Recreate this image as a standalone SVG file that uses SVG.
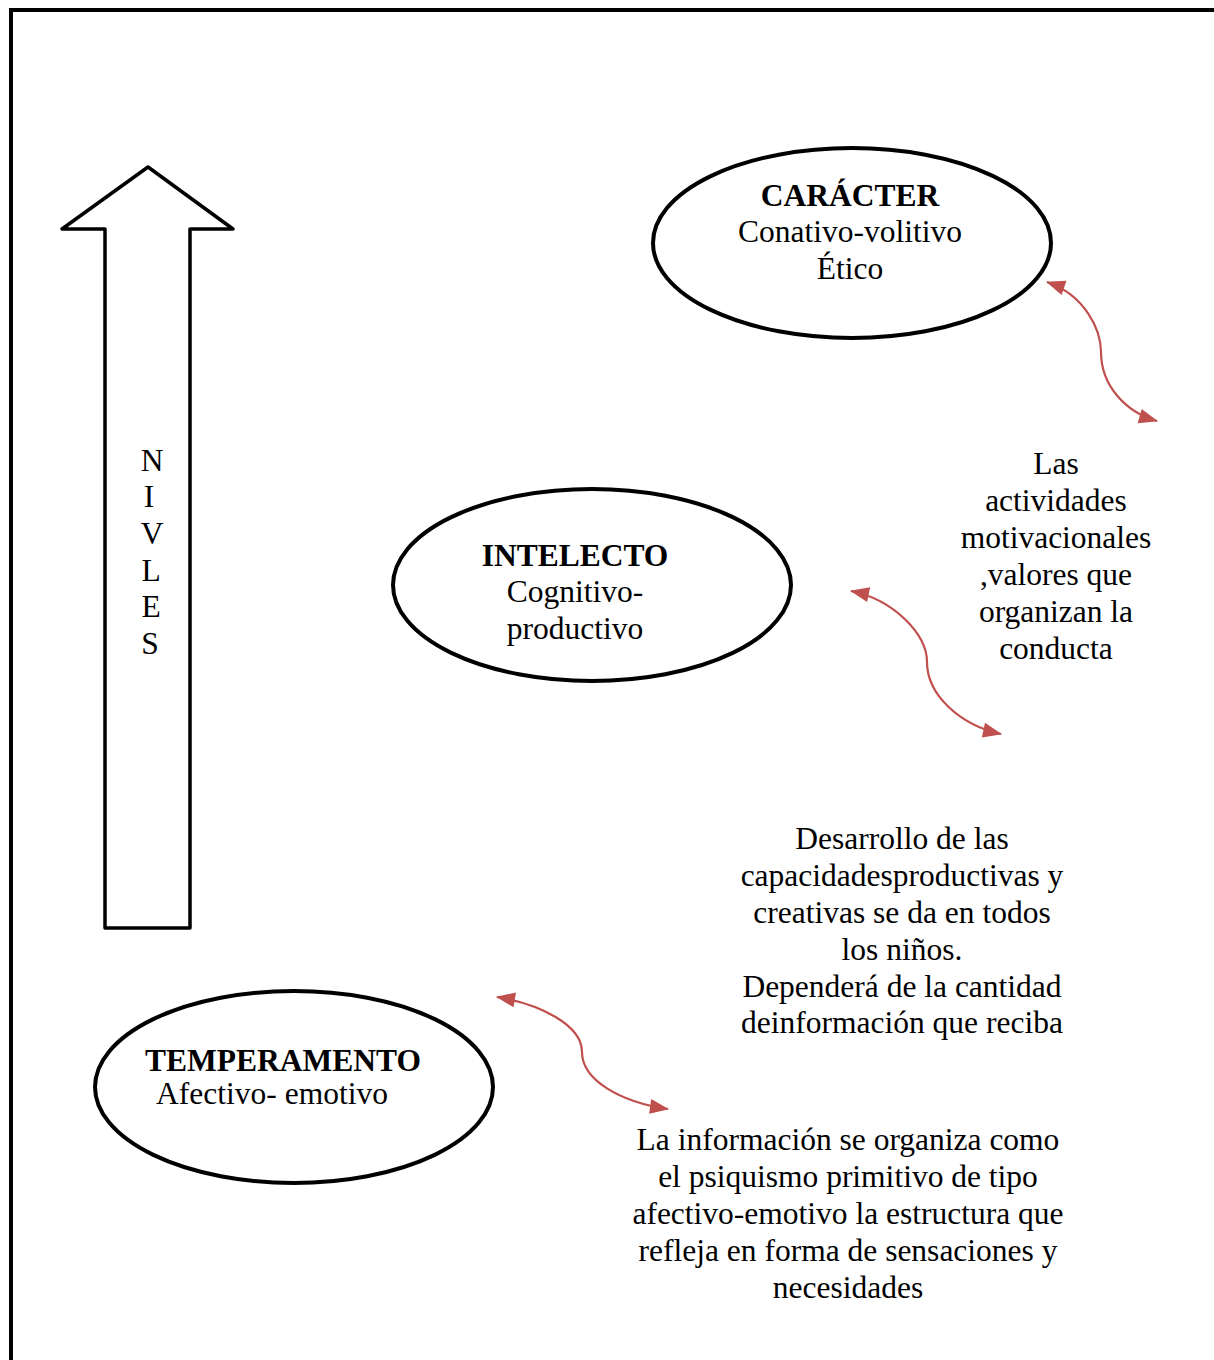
<svg xmlns="http://www.w3.org/2000/svg" width="1214" height="1360" viewBox="0 0 1214 1360">
<style>
text{font-family:"Liberation Serif","Times New Roman",serif;font-size:31.5px;fill:#000;text-anchor:middle}
.b{font-weight:bold}
.node ellipse{fill:#fff;stroke:#000;stroke-width:4}
.conn path{fill:none;stroke:#C0504D;stroke-width:2.2;marker-start:url(#ah);marker-end:url(#ah)}
</style>
<defs>
<marker id="ah" markerWidth="20" markerHeight="20" markerUnits="userSpaceOnUse" refX="0" refY="0" orient="auto-start-reverse" style="overflow:visible"><path d="M-18,-7.5 L1,0 L-18,7.5 Z" fill="#C0504D"/></marker>
</defs>
<rect width="1214" height="1360" fill="#fff"/>
<path d="M11,1360 L11,10 L1214,10" fill="none" stroke="#000" stroke-width="4"/>
<g id="niveles">
<polygon points="62,229 148,167 233,229 190,229 190,928 105,928 105,229" fill="#fff" stroke="#000" stroke-width="3.5" stroke-linejoin="round"/>
<text x="152" y="471">N</text>
<text x="149" y="507">I</text>
<text x="152" y="544">V</text>
<text x="151" y="581">L</text>
<text x="151" y="617">E</text>
<text x="150" y="654">S</text>
</g>
<g id="caracter" class="node">
<ellipse cx="852" cy="243" rx="199" ry="95"/>
<text x="850" y="206" class="b">CARÁCTER</text>
<text x="850" y="242">Conativo-volitivo</text>
<text x="850" y="279">Ético</text>
</g>
<g id="intelecto" class="node">
<ellipse cx="592" cy="585" rx="199" ry="96"/>
<text x="575" y="566" class="b">INTELECTO</text>
<text x="575" y="602">Cognitivo-</text>
<text x="575" y="639">productivo</text>
</g>
<g id="temperamento" class="node">
<ellipse cx="294" cy="1087" rx="199" ry="96"/>
<text x="283" y="1071" class="b">TEMPERAMENTO</text>
<text x="272" y="1104">Afectivo- emotivo</text>
</g>
<g id="texto-caracter">
<text x="1056" y="474">Las</text>
<text x="1056" y="511">actividades</text>
<text x="1056" y="548">motivacionales</text>
<text x="1056" y="585">,valores que</text>
<text x="1056" y="622">organizan la</text>
<text x="1056" y="659">conducta</text>
</g>
<g id="texto-intelecto">
<text x="902" y="849">Desarrollo de las</text>
<text x="902" y="886">capacidadesproductivas y</text>
<text x="902" y="923">creativas se da en todos</text>
<text x="902" y="960">los niños.</text>
<text x="902" y="997">Dependerá de la cantidad</text>
<text x="902" y="1033">deinformación que reciba</text>
</g>
<g id="texto-temperamento">
<text x="848" y="1150">La información se organiza como</text>
<text x="848" y="1187">el psiquismo primitivo de tipo</text>
<text x="848" y="1224">afectivo-emotivo la estructura que</text>
<text x="848" y="1261">refleja en forma de sensaciones y</text>
<text x="848" y="1298">necesidades</text>
</g>
<g id="connectors" class="conn">
<path d="M1047,282 C1085,295 1101,330 1101,352 C1101,385 1125,412 1157,421"/>
<path d="M851,591 C895,600 927,635 927,662 C927,695 960,725 1001,734"/>
<path d="M497,997 C540,1004 582,1025 582,1052 C582,1080 620,1102 668,1109"/>
</g>
</svg>
